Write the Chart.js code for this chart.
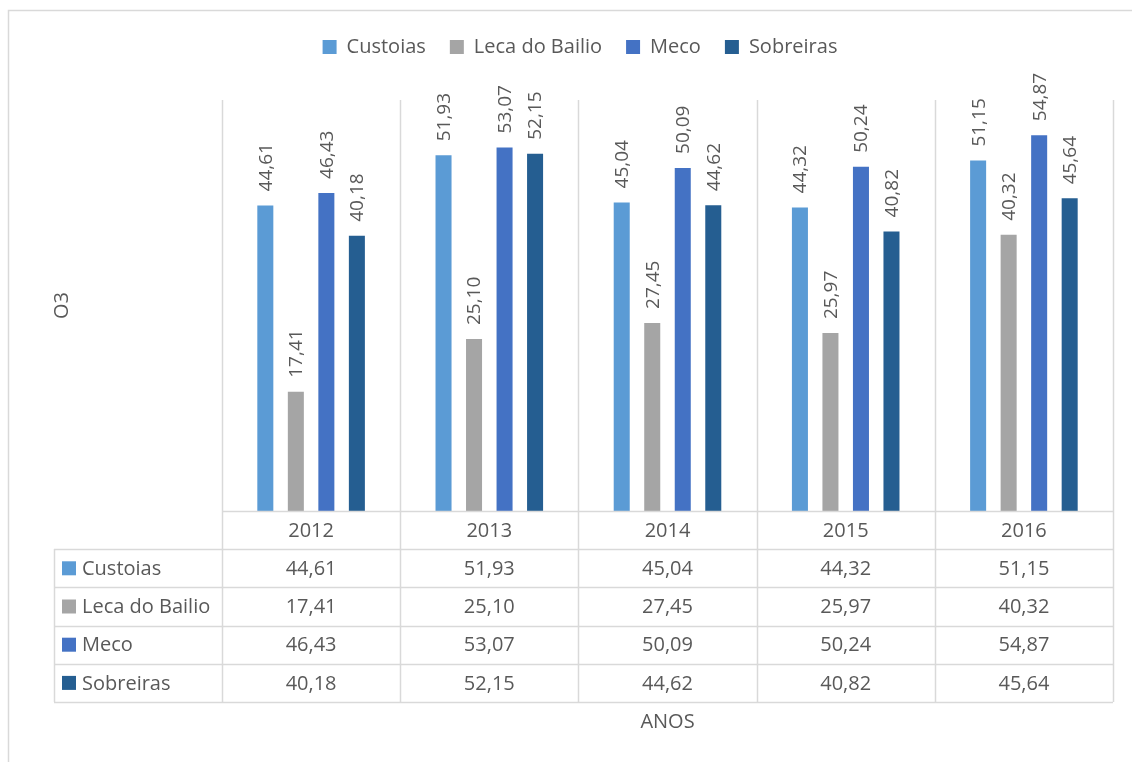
<!DOCTYPE html>
<html>
<head>
<meta charset="utf-8">
<script src="https://cdn.jsdelivr.net/npm/chart.js@4.4.0/dist/chart.umd.min.js"></script>
<style>
html, body { margin: 0; padding: 0; background: #fff; }
</style>
</head>
<body>
<canvas id="myChart" width="1132" height="762"></canvas>
<script>
// values
const years = ['2012', '2013', '2014', '2015', '2016'];
const custoias = [44.61, 51.93, 45.04, 44.32, 51.15];
const lecaDoBailio = [17.41, 25.10, 27.45, 25.97, 40.32];
const meco = [46.43, 53.07, 50.09, 50.24, 54.87];
const sobreiras = [40.18, 52.15, 44.62, 40.82, 45.64];
const seriesNames = ['Custoias', 'Leca do Bailio', 'Meco', 'Sobreiras'];
const seriesValues = [custoias, lecaDoBailio, meco, sobreiras];

const colors = ['#5B9BD5', '#A5A5A5', '#4472C4', '#255E91'];
const textColor = '#595959';
const lineColor = '#D9D9D9';
const fontFamily = "'Open Sans', sans-serif";

Chart.defaults.font.family = fontFamily;
Chart.defaults.color = textColor;

function fmt(v) {
    return v.toFixed(2).replace('.', ',');
}

// push the plot area down below the legend
const legendGap = {
    id: 'legendGap',
    beforeInit(chart) {
        const fit = chart.legend.fit;
        chart.legend.fit = function () {
            fit.call(this);
            this.height += 33;
        };
    }
};

// rotated value labels above the bars
const barLabels = {
    id: 'barLabels',
    afterDatasetsDraw(chart) {
        const ctx = chart.ctx;
        ctx.save();
        ctx.font = '19px ' + fontFamily;
        ctx.fillStyle = textColor;
        ctx.textAlign = 'left';
        ctx.textBaseline = 'middle';
        chart.data.datasets.forEach(function (ds, i) {
            chart.getDatasetMeta(i).data.forEach(function (bar, j) {
                ctx.save();
                ctx.translate(bar.x + 1, bar.y - 14);
                ctx.rotate(-Math.PI / 2);
                ctx.fillText(fmt(ds.data[j]), 0, 0);
                ctx.restore();
            });
        });
        ctx.restore();
    }
};

// frame, category separators and the data table under the plot
const dataTable = {
    id: 'dataTable',
    afterDraw(chart) {
        const ctx = chart.ctx;
        const area = chart.chartArea;
        const xs = chart.scales.x;
        const colW = area.width / years.length;
        const rowH = 38.2;
        const top = area.bottom;
        const bottom = top + rowH * (seriesNames.length + 1);
        const labelLeft = 54;

        ctx.save();
        ctx.strokeStyle = lineColor;
        ctx.lineWidth = 1.5;
        ctx.strokeRect(8.5, 10.5, chart.width + 20, chart.height + 20);

        ctx.beginPath();
        for (let k = 0; k <= years.length; k++) {
            const px = Math.round(xs.getPixelForValue(0) - colW / 2 + k * colW) + 0.5;
            ctx.moveTo(px, area.top);
            ctx.lineTo(px, bottom);
        }
        ctx.moveTo(area.left, Math.round(top) + 0.5);
        ctx.lineTo(area.right, Math.round(top) + 0.5);
        for (let r = 1; r <= seriesNames.length + 1; r++) {
            const py = Math.round(top + r * rowH) + 0.5;
            ctx.moveTo(labelLeft, py);
            ctx.lineTo(area.right, py);
        }
        ctx.moveTo(labelLeft + 0.5, Math.round(top + rowH));
        ctx.lineTo(labelLeft + 0.5, Math.round(bottom));
        ctx.stroke();

        ctx.font = '20px ' + fontFamily;
        ctx.fillStyle = textColor;
        ctx.textBaseline = 'middle';
        ctx.textAlign = 'center';
        years.forEach(function (y, i) {
            ctx.fillText(y, xs.getPixelForValue(i), top + rowH / 2 + 1);
        });
        seriesNames.forEach(function (name, s) {
            const cy = top + rowH * (s + 1) + rowH / 2;
            ctx.fillStyle = colors[s];
            ctx.fillRect(62, cy - 7, 14, 14);
            ctx.fillStyle = textColor;
            ctx.textAlign = 'left';
            ctx.fillText(name, 82, cy + 1);
            ctx.textAlign = 'center';
            seriesValues[s].forEach(function (v, i) {
                ctx.fillText(fmt(v), xs.getPixelForValue(i), cy + 1);
            });
        });
        ctx.restore();
    }
};

const datasets = seriesNames.map(function (name, s) {
    return {
        label: name,
        data: seriesValues[s],
        backgroundColor: colors[s],
        borderWidth: 0,
        categoryPercentage: 0.685,
        barPercentage: 0.525
    };
});

const config = {
    type: 'bar',
    data: { labels: years, datasets: datasets },
    options: {
        responsive: false,
        animation: false,
        events: [],
        layout: { padding: { top: 13, left: 28, right: 0, bottom: 0 } },
        plugins: {
            legend: {
                position: 'top',
                labels: {
                    boxWidth: 14,
                    boxHeight: 14,
                    padding: 24,
                    font: { size: 20 },
                    color: textColor
                }
            },
            tooltip: { enabled: false }
        },
        scales: {
            x: {
                grid: { display: false },
                border: { display: false },
                ticks: { display: false },
                title: { display: true, text: 'ANOS', font: { size: 20 }, color: textColor, padding: { top: 0, bottom: 28 } },
                afterFit: function (scale) { scale.height = 251; }
            },
            y: {
                min: 0,
                max: 60,
                grid: { display: false },
                border: { display: false },
                ticks: { display: false },
                title: { display: true, text: 'O3', font: { size: 20 }, color: textColor, padding: { top: 22, bottom: 0 } },
                afterFit: function (scale) { scale.width = 194; }
            },
            yr: {
                type: 'linear',
                position: 'right',
                grid: { display: false },
                border: { display: false },
                ticks: { display: false },
                afterFit: function (scale) { scale.width = 19; }
            }
        }
    },
    plugins: [legendGap, barLabels, dataTable]
};

const myChart = new Chart(document.getElementById('myChart'), config);
</script>
</body>
</html>
